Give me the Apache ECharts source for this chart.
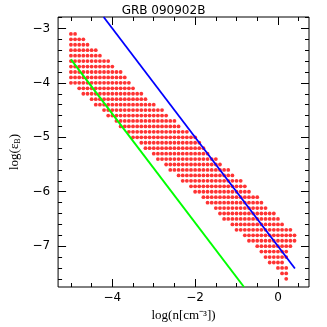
<!DOCTYPE html>
<html>
<head>
<meta charset="utf-8">
<script src="https://cdn.jsdelivr.net/npm/echarts@6/dist/echarts.min.js"></script>
<style>
  html, body { margin: 0; padding: 0; background: #fff; }
  #chart { width: 327px; height: 327px; }
</style>
</head>
<body>
<div id="chart"></div>
<script>
// allowed region: one row of dots per log(eps_B), from xStart to xEnd (step 0.1)
var rowY = [-3.1, -3.2, -3.3, -3.4, -3.5, -3.6, -3.7, -3.8, -3.9, -4.0,
  -4.1, -4.2, -4.3, -4.4, -4.5, -4.6, -4.7, -4.8, -4.9, -5.0,
  -5.1, -5.2, -5.3, -5.4, -5.5, -5.6, -5.7, -5.8, -5.9, -6.0,
  -6.1, -6.2, -6.3, -6.4, -6.5, -6.6, -6.7, -6.8, -6.9, -7.0,
  -7.1, -7.2, -7.3, -7.4, -7.5, -7.6]
var rowXStart = [-5.0, -5.0, -5.0, -5.0, -5.0, -5.0, -5.0, -5.0, -5.0, -5.0,
  -4.8, -4.7, -4.5, -4.4, -4.2, -4.1, -3.9, -3.8, -3.6, -3.5,
  -3.3, -3.2, -3.0, -2.9, -2.7, -2.6, -2.4, -2.3, -2.1, -2.0,
  -1.8, -1.7, -1.5, -1.4, -1.3, -1.1, -1.0, -0.8, -0.7, -0.5,
  -0.4, -0.3, -0.2, 0.0, 0.1, 0.2]
var rowXEnd = [-4.9, -4.7, -4.6, -4.4, -4.3, -4.1, -4.0, -3.8, -3.7, -3.6,
  -3.5, -3.3, -3.2, -3.0, -2.8, -2.7, -2.5, -2.4, -2.2, -2.0,
  -1.9, -1.8, -1.7, -1.5, -1.4, -1.2, -1.1, -0.9, -0.8, -0.7,
  -0.5, -0.4, -0.3, -0.1, 0.0, 0.1, 0.3, 0.4, 0.4, 0.3,
  0.2, 0.2, 0.1, 0.2, 0.2, 0.2]

// the two limit lines (end points)
var blueLine = [[-4.21, -2.79], [0.41, -7.41]]
var greenLine = [[-5.0, -3.57], [-0.82, -7.75]]

// ticks
var xMajor = [-4, -2, 0]
var xMinor = [-5, -4.5, -4, -3.5, -3, -2.5, -2, -1.5, -1, -0.5, 0, 0.5]
var yMajor = [-3, -4, -5, -6, -7]
var yMinor = [-7.6, -7.4, -7.2, -7, -6.8, -6.6, -6.4, -6.2, -6, -5.8, -5.6, -5.4, -5.2, -5,
  -4.8, -4.6, -4.4, -4.2, -4, -3.8, -3.6, -3.4, -3.2, -3, -2.8]

var xMin = -5.31, xMax = 0.75
var yMin = -7.75, yMax = -2.79

var dots = []
for (var i = 0; i < rowY.length; i++) {
  var n = Math.round((rowXEnd[i] - rowXStart[i]) * 10)
  for (var k = 0; k <= n; k++) {
    dots.push([+(rowXStart[i] + k * 0.1).toFixed(1), rowY[i]])
  }
}

function minus(v) {
  return String(v).replace('-', '\u2212')
}

var tickFont = { color: '#000', fontSize: 12, fontFamily: 'DejaVu Sans' }

function xAx(pos, values, len, labels) {
  return {
    type: 'value', position: pos, min: xMin, max: xMax,
    axisLine: { show: false, onZero: false },
    splitLine: { show: false },
    axisTick: { show: true, inside: true, length: len, customValues: values, lineStyle: { color: '#000', width: 1 } },
    axisLabel: labels ? Object.assign({ show: true, margin: 5, customValues: values, formatter: minus }, tickFont) : { show: false }
  }
}
function yAx(pos, values, len, labels) {
  return {
    type: 'value', position: pos, min: yMin, max: yMax,
    axisLine: { show: false, onZero: false },
    splitLine: { show: false },
    axisTick: { show: true, inside: true, length: len, customValues: values, lineStyle: { color: '#000', width: 1 } },
    axisLabel: labels ? Object.assign({ show: true, margin: 8, customValues: values, formatter: minus }, tickFont) : { show: false }
  }
}

var xAxes = [xAx('bottom', xMajor, 8, true), xAx('bottom', xMinor, 4, false), xAx('top', xMajor, 8, false), xAx('top', xMinor, 4, false)]
xAxes[0].name = 'log(n[cm\u207B\u00B3])'
xAxes[0].nameLocation = 'middle'
xAxes[0].nameGap = 22
xAxes[0].nameTextStyle = { color: '#000', fontSize: 13, fontFamily: 'Liberation Serif' }

var yAxes = [yAx('left', yMajor, 8, true), yAx('left', yMinor, 4, false), yAx('right', yMajor, 8, false), yAx('right', yMinor, 4, false)]
yAxes[0].name = 'log(\u03B5{sub|B})'
yAxes[0].nameLocation = 'middle'
yAxes[0].nameGap = 31
yAxes[0].nameTextStyle = {
  color: '#000', fontSize: 13, fontFamily: 'Liberation Serif',
  rich: { sub: { fontSize: 8, fontFamily: 'Liberation Serif', color: '#000', verticalAlign: 'bottom', padding: [6, 0, 0, 0] } }
}

var chart = echarts.init(document.getElementById('chart'))
chart.setOption({
  backgroundColor: '#fff',
  animation: false,
  title: {
    text: 'GRB 090902B', left: 'center', top: 0,
    textStyle: { color: '#000', fontSize: 12, fontWeight: 'normal', fontFamily: 'DejaVu Sans' }
  },
  grid: { left: 44, right: 18, top: 17, bottom: 35, show: true, borderColor: '#000', borderWidth: 1, backgroundColor: 'transparent' },
  xAxis: xAxes,
  yAxis: yAxes,
  series: [
    {
      type: 'scatter',
      symbol: 'circle',
      symbolSize: 3.8,
      itemStyle: { color: '#ff0000' },
      silent: true,
      data: dots
    },
    {
      type: 'line',
      data: blueLine,
      symbol: 'none',
      lineStyle: { color: '#0000ff', width: 1.8 },
      silent: true,
      z: 3
    },
    {
      type: 'line',
      data: greenLine,
      symbol: 'none',
      lineStyle: { color: '#00ff00', width: 2 },
      silent: true,
      z: 3
    }
  ]
})
</script>
</body>
</html>
